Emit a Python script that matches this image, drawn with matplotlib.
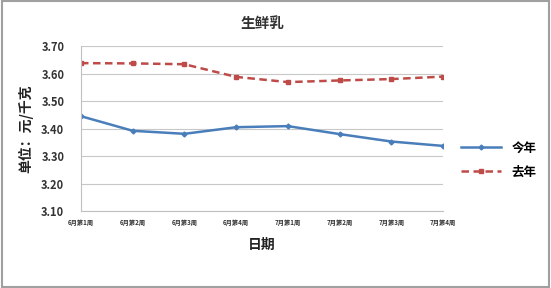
import matplotlib
matplotlib.use("Agg")
import matplotlib.pyplot as plt
from matplotlib.patches import Rectangle

plt.rcParams['font.family'] = ['Noto Sans CJK SC', 'DejaVu Sans']

categories = ["6月第1周", "6月第2周", "6月第3周", "6月第4周",
              "7月第1周", "7月第2周", "7月第3周", "7月第4周"]
this_year = [3.445, 3.392, 3.381, 3.405, 3.409, 3.380, 3.353, 3.337]
last_year = [3.638, 3.637, 3.634, 3.588, 3.569, 3.575, 3.580, 3.589]
yticks = [3.10, 3.20, 3.30, 3.40, 3.50, 3.60, 3.70]

fig = plt.figure(figsize=(5.51, 2.88), dpi=100)
ax = fig.add_axes([0.147, 0.267, 0.657, 0.573])

x = list(range(len(categories)))
ax.plot(x, this_year, color='#4A7EBB', lw=1.8, marker='D', ms=2.5, label='今年')
ax.plot(x, last_year, color='#BE4B48', lw=1.8, ls=(0, (3, 1.8)), marker='s', ms=3.5, label='去年')

ax.set_xlim(0, 7)
ax.set_ylim(3.10, 3.70)
ax.set_yticks(yticks)
ax.set_yticklabels([f"{v:.2f}" for v in yticks], fontsize=8, fontweight='bold', color='#333333')
ax.set_xticks(x)
ax.set_xticklabels(categories, fontsize=4.5, fontweight='bold', color='#333333')
ax.grid(axis='y', color='#C8C8C8', lw=0.8)
ax.set_axisbelow(True)
for s in ['top', 'right']:
    ax.spines[s].set_visible(False)
ax.spines['left'].set_color('#C0C0C0')
ax.spines['bottom'].set_color('#C0C0C0')
ax.tick_params(length=0, pad=6)
ax.tick_params(axis='y', pad=12)

ax.set_title('生鲜乳', fontsize=10.5, fontweight='bold', color='#333333', pad=13)
ax.set_xlabel('日期', fontsize=10, fontweight='bold', color='#222222', labelpad=8)
ax.set_ylabel('单位：元/千克', fontsize=10, fontweight='bold', color='#222222', labelpad=6)

leg = ax.legend(loc='center left', bbox_to_anchor=(1.02, 0.31), frameon=False,
                prop={'size': 9, 'weight': 'bold'}, handlelength=3.2, labelspacing=0.9)

fig.patches.append(Rectangle((0.003, 0.005), 0.994, 0.99, transform=fig.transFigure,
                             fill=False, edgecolor='#A0A0A0', lw=1.5))
fig.savefig('out.png', dpi=100)
